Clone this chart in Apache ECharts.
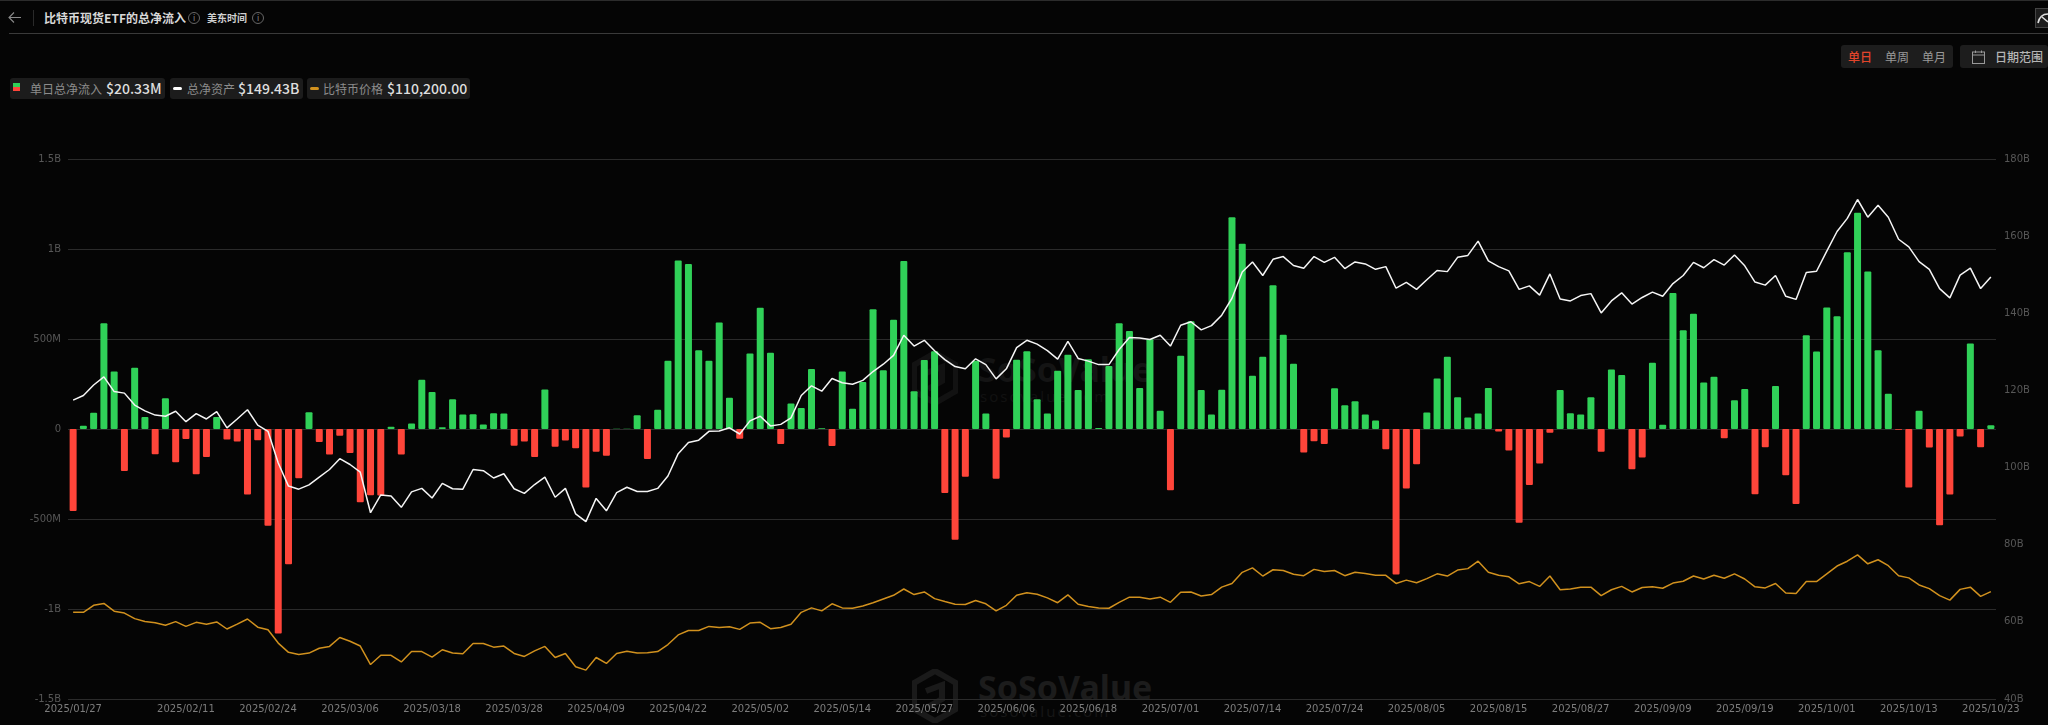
<!DOCTYPE html>
<html>
<head>
<meta charset="utf-8">
<title>比特币现货ETF的总净流入</title>
<script src="https://cdn.jsdelivr.net/npm/echarts@6/dist/echarts.min.js"></script>
<style>
    html, body { margin: 0; padding: 0; width: 2048px; height: 725px; overflow: hidden; background: #050505; }
    body { position: relative; font-family: "Noto Sans CJK SC", "Noto Sans", sans-serif; }
    #main { position: absolute; left: 0; top: 0; width: 2048px; height: 725px; z-index: 2; }
    .abs { position: absolute; white-space: nowrap; }
    .topline { left: 0; top: 0; width: 2048px; height: 1px; background: #2c2c2c; }
    .headline { left: 9px; top: 33px; width: 2039px; height: 1px; background: #3a3a3a; }
    .sep { left: 33px; top: 10px; width: 1px; height: 16px; background: #2a2a2a; }
    .title { left: 44px; top: 9px; font-size: 12px; line-height: 17px; font-weight: 700; color: #d8d8d8; }
    .tz { left: 207px; top: 10px; font-size: 10px; line-height: 15px; font-weight: 700; color: #cfcfcf; }
    .info { width: 10px; height: 10px; top: 12px; border: 1px solid #666; border-radius: 50%; color: #888; font-size: 8px; line-height: 10px; text-align: center; }
    .chip { top: 78px; height: 21px; background: #1c1c1c; border-radius: 3px; font-size: 12px; line-height: 21px; color: #8c8c8c; }
    .chip b { position: absolute; top: 0; font-size: 14px; font-weight: 500; color: #dedede; }
    .chip span { position: absolute; top: 0; }
    .mark { position: absolute; }
    .panel { background: #1d1d1d; border-radius: 3px; top: 45px; height: 23px; font-size: 12px; line-height: 23px; color: #999; }
    .panel span { position: absolute; top: 0; }
    .wm { font-weight: 700; color: #141414; font-family: "Noto Sans", sans-serif; }
    .wm2 { color: #111111; font-weight: 400; font-family: "Noto Sans", sans-serif; }
</style>
</head>
<body>
<div class="abs topline"></div>
<div class="abs headline"></div>
<svg class="abs" style="left:8px;top:11px" width="14" height="13" viewBox="0 0 14 13"><path d="M13 6.5H1M6 1.5L1 6.5L6 11.5" stroke="#8a8a8a" stroke-width="1.1" fill="none"/></svg>
<div class="abs sep"></div>
<div class="abs title">比特币现货ETF的总净流入</div>
<div class="abs info" style="left:188px">i</div>
<div class="abs tz">美东时间</div>
<div class="abs info" style="left:252px">i</div>
<svg class="abs" style="left:2035px;top:8px" width="13" height="20" viewBox="0 0 13 20"><rect x="0.5" y="0.5" width="14" height="19" fill="#1d1d1d" stroke="#444"/><path d="M3 15C4 10 7 6 13 6M7 9L13 14" stroke="#ddd" stroke-width="1.6" fill="none"/></svg>

<div class="abs chip" style="left:10px;width:155px">
    <i class="mark" style="left:3px;top:5px;width:7px;height:4px;background:#30d158"></i>
    <i class="mark" style="left:3px;top:9px;width:7px;height:4px;background:#ff453a"></i>
    <span style="left:20px">单日总净流入</span><b style="left:96px">$20.33M</b>
</div>
<div class="abs chip" style="left:170px;width:133px">
    <i class="mark" style="left:3px;top:9px;width:9px;height:3px;border-radius:2px;background:#fff"></i>
    <span style="left:17px">总净资产</span><b style="left:68px">$149.43B</b>
</div>
<div class="abs chip" style="left:307px;width:163px">
    <i class="mark" style="left:3px;top:9px;width:9px;height:3px;border-radius:2px;background:#d1911e"></i>
    <span style="left:16px">比特币价格</span><b style="left:80px">$110,200.00</b>
</div>

<div class="abs panel" style="left:1841px;width:112px">
    <span style="left:7px;color:#e2452b;font-weight:500">单日</span>
    <span style="left:44px">单周</span>
    <span style="left:81px">单月</span>
</div>
<div class="abs panel" style="left:1960px;width:88px;color:#b5b5b5">
    <svg class="mark" style="left:12px;top:5px" width="13" height="14" viewBox="0 0 13 14"><rect x="0.5" y="2" width="12" height="11.5" fill="none" stroke="#999"/><path d="M0.5 5H12.5M3.5 0.5V3M9.5 0.5V3" stroke="#999" fill="none"/></svg>
    <span style="left:35px;font-weight:500">日期范围</span>
</div>

<svg class="abs" style="left:912px;top:351px" width="46" height="54" viewBox="0 0 46 54"><path d="M23 2L44 14V40L23 52L2 40V14Z" fill="none" stroke="#121212" stroke-width="6"/><path d="M14 22L30 16V30L16 38" fill="none" stroke="#121212" stroke-width="6"/></svg>
<div class="abs wm" style="left:978px;top:346px;font-size:34px;line-height:46px">SoSoValue</div>
<div class="abs wm2" style="left:980px;top:386px;font-size:15px;line-height:20px;letter-spacing:2px">sosovalue.com</div>
<svg class="abs" style="left:912px;top:669px" width="46" height="54" viewBox="0 0 46 54"><path d="M23 2L44 14V40L23 52L2 40V14Z" fill="none" stroke="#1a1a1a" stroke-width="6"/><path d="M14 22L30 16V30L16 38" fill="none" stroke="#1a1a1a" stroke-width="6"/></svg>
<div class="abs wm" style="left:978px;top:664px;font-size:34px;line-height:46px;color:#1c1c1c">SoSoValue</div>
<div class="abs wm2" style="left:980px;top:701px;font-size:15px;line-height:20px;letter-spacing:2px;color:#161616">sosovalue.com</div>

<div id="main"></div>

<script type="text/javascript">
    var categories = [
        '2025/01/27','2025/01/28','2025/01/29','2025/01/30','2025/01/31','2025/02/03','2025/02/04','2025/02/05','2025/02/06','2025/02/07',
        '2025/02/10','2025/02/11','2025/02/12','2025/02/13','2025/02/14','2025/02/18','2025/02/19','2025/02/20','2025/02/21','2025/02/24',
        '2025/02/25','2025/02/26','2025/02/27','2025/02/28','2025/03/03','2025/03/04','2025/03/05','2025/03/06','2025/03/07','2025/03/10',
        '2025/03/11','2025/03/12','2025/03/13','2025/03/14','2025/03/17','2025/03/18','2025/03/19','2025/03/20','2025/03/21','2025/03/24',
        '2025/03/25','2025/03/26','2025/03/27','2025/03/28','2025/03/31','2025/04/01','2025/04/02','2025/04/03','2025/04/04','2025/04/07',
        '2025/04/08','2025/04/09','2025/04/10','2025/04/11','2025/04/14','2025/04/15','2025/04/16','2025/04/17','2025/04/21','2025/04/22',
        '2025/04/23','2025/04/24','2025/04/25','2025/04/28','2025/04/29','2025/04/30','2025/05/01','2025/05/02','2025/05/05','2025/05/06',
        '2025/05/07','2025/05/08','2025/05/09','2025/05/12','2025/05/13','2025/05/14','2025/05/15','2025/05/16','2025/05/19','2025/05/20',
        '2025/05/21','2025/05/22','2025/05/23','2025/05/27','2025/05/28','2025/05/29','2025/05/30','2025/06/02','2025/06/03','2025/06/04',
        '2025/06/05','2025/06/06','2025/06/09','2025/06/10','2025/06/11','2025/06/12','2025/06/13','2025/06/16','2025/06/17','2025/06/18',
        '2025/06/20','2025/06/23','2025/06/24','2025/06/25','2025/06/26','2025/06/27','2025/06/30','2025/07/01','2025/07/02','2025/07/03',
        '2025/07/07','2025/07/08','2025/07/09','2025/07/10','2025/07/11','2025/07/14','2025/07/15','2025/07/16','2025/07/17','2025/07/18',
        '2025/07/21','2025/07/22','2025/07/23','2025/07/24','2025/07/25','2025/07/28','2025/07/29','2025/07/30','2025/07/31','2025/08/01',
        '2025/08/04','2025/08/05','2025/08/06','2025/08/07','2025/08/08','2025/08/11','2025/08/12','2025/08/13','2025/08/14','2025/08/15',
        '2025/08/18','2025/08/19','2025/08/20','2025/08/21','2025/08/22','2025/08/25','2025/08/26','2025/08/27','2025/08/28','2025/08/29',
        '2025/09/02','2025/09/03','2025/09/04','2025/09/05','2025/09/08','2025/09/09','2025/09/10','2025/09/11','2025/09/12','2025/09/15',
        '2025/09/16','2025/09/17','2025/09/18','2025/09/19','2025/09/22','2025/09/23','2025/09/24','2025/09/25','2025/09/26','2025/09/29',
        '2025/09/30','2025/10/01','2025/10/02','2025/10/03','2025/10/06','2025/10/07','2025/10/08','2025/10/09','2025/10/10','2025/10/13',
        '2025/10/14','2025/10/15','2025/10/16','2025/10/17','2025/10/20','2025/10/21','2025/10/22','2025/10/23'
    ];

    //单日总净流入 (百万美元)
    var netInflow = [
        -455, 18, 90, 587, 319, -233, 340, 66, -140, 171,
        -185, -56, -251, -156, 66, -58, -70, -364, -62, -537,
        -1136, -751, -274, 93, -72, -142, -37, -134, -407, -368,
        -370, 12, -142, 31, 274, 206, 10, 165, 80, 82,
        25, 88, 86, -93, -70, -156, 220, -99, -64, -107,
        -325, -126, -148, 1, 2, 76, -167, 107, 379, 936,
        916, 438, 379, 591, 173, -54, 420, 673, 424, -84,
        142, 117, 333, 4, -95, 319, 113, 261, 665, 327,
        607, 934, 210, 383, 432, -356, -615, -265, 379, 86,
        -276, -47, 385, 432, 165, 86, 323, 412, 216, 387,
        5, 350, 587, 545, 228, 498, 101, -340, 407, 599,
        216, 80, 218, 1177, 1029, 296, 401, 798, 523, 362,
        -130, -68, -84, 226, 132, 154, 80, 47, -113, -809,
        -331, -196, 91, 280, 401, 177, 64, 86, 228, -14,
        -119, -521, -311, -191, -21, 216, 88, 80, 177, -126,
        331, 300, -224, -158, 368, 23, 755, 549, 640, 259,
        290, -51, 160, 222, -362, -101, 239, -257, -416, 521,
        430, 675, 626, 982, 1202, 875, 438, 196, -4, -325,
        101, -103, -535, -364, -41, 475, -101, 20.33
    ];

    //总净资产 (十亿美元)
    var netAssets = [
        117.5, 118.7, 121.4, 123.5, 119.7, 119.3, 116.2, 114.7, 113.6, 113.3,
        114.6, 111.9, 114.0, 112.6, 114.5, 110.3, 112.6, 115.0, 111.0, 109.4,
        101.2, 95.2, 94.4, 95.5, 97.5, 99.5, 102.3, 100.8, 98.8, 88.3,
        92.9, 92.6, 89.7, 93.7, 94.6, 92.1, 95.9, 94.5, 94.4, 99.5,
        99.2, 97.3, 98.4, 94.5, 93.3, 95.6, 97.5, 92.3, 94.6, 88.0,
        86.0, 92.0, 88.8, 93.5, 94.9, 93.8, 93.8, 94.6, 97.8, 103.6,
        106.5, 107.1, 109.4, 109.5, 110.3, 108.7, 112.1, 113.3, 110.8, 111.2,
        112.9, 118.7, 121.2, 119.8, 123.1, 122.0, 121.6, 122.6, 124.9, 126.8,
        129.1, 134.3, 131.5, 133.0, 130.3, 128.0, 126.2, 125.6, 128.2, 126.7,
        123.0, 125.6, 131.1, 133.0, 132.0, 130.3, 128.1, 132.7, 128.3, 127.6,
        126.7, 126.7, 130.6, 133.7, 133.6, 133.2, 134.3, 131.5, 136.9, 137.8,
        135.7, 136.8, 139.5, 143.9, 150.7, 153.3, 149.8, 154.0, 154.7, 152.4,
        151.7, 154.7, 153.2, 154.5, 151.6, 153.3, 152.8, 151.4, 152.1, 146.5,
        148.0, 146.2, 148.7, 151.1, 150.8, 154.5, 155.0, 158.7, 153.6, 152.1,
        151.0, 146.2, 147.1, 144.7, 150.2, 143.7, 143.2, 144.6, 145.1, 140.1,
        143.2, 145.3, 142.4, 144.1, 145.5, 144.4, 147.7, 149.8, 153.2, 151.8,
        153.9, 152.5, 155.1, 152.3, 148.1, 147.3, 149.8, 144.4, 143.6, 150.6,
        150.9, 156.1, 161.2, 164.6, 169.5, 164.9, 168.0, 164.9, 159.2, 157.2,
        153.4, 151.4, 146.4, 144.0, 149.9, 151.7, 146.4, 149.43
    ];

    //比特币价格
    var btcPrice = [
        101800, 101800, 104650, 105400, 102250, 101500, 99250, 98050, 97600, 96550,
        98050, 96100, 97750, 97000, 97900, 95050, 97000, 99100, 95800, 94750,
        89350, 85600, 84700, 85300, 87250, 88000, 91600, 90100, 88150, 80650,
        84400, 84400, 81700, 85900, 85900, 83650, 86650, 85300, 85000, 89200,
        89200, 87700, 88150, 85150, 83950, 86200, 88000, 83500, 85150, 79750,
        78400, 83500, 81100, 85150, 86050, 85300, 85450, 85900, 88750, 92650,
        94450, 94450, 96100, 95650, 95950, 94900, 97450, 97750, 95200, 95650,
        97000, 101800, 103600, 102400, 105250, 103600, 103450, 104350, 105700, 107200,
        108700, 111250, 109000, 110050, 107350, 106150, 105100, 104950, 106600, 105250,
        102400, 104650, 108700, 109750, 109150, 107650, 105700, 108850, 105100, 104200,
        103600, 103450, 105850, 107950, 107950, 107200, 107950, 105850, 109900, 110050,
        108400, 109000, 112000, 113500, 118000, 119800, 116500, 119050, 118750, 117250,
        116650, 119200, 118300, 118750, 116650, 118000, 117550, 116800, 116800, 113500,
        114850, 113800, 115450, 117400, 116500, 118900, 119500, 122500, 118000, 116800,
        116200, 113350, 114250, 112300, 116500, 110950, 111250, 112000, 112000, 108550,
        110950, 112300, 110050, 111850, 112150, 111550, 113650, 114400, 116500, 115300,
        116800, 115600, 117400, 115300, 112150, 111700, 113500, 109600, 109450, 114250,
        114250, 117400, 120550, 122500, 125050, 121450, 123100, 120700, 116650, 115750,
        112900, 111400, 108550, 106750, 111100, 112000, 108250, 110200
    ];

    var xTickLabels = [
        '2025/01/27','2025/02/11','2025/02/24','2025/03/06','2025/03/18','2025/03/28','2025/04/09','2025/04/22',
        '2025/05/02','2025/05/14','2025/05/27','2025/06/06','2025/06/18','2025/07/01','2025/07/14','2025/07/24',
        '2025/08/05','2025/08/15','2025/08/27','2025/09/09','2025/09/19','2025/10/01','2025/10/13','2025/10/23'
    ];
    var flowTickLabels = { '-1500': '-1.5B', '-1000': '-1B', '-500': '-500M', '0': '0', '500': '500M', '1000': '1B', '1500': '1.5B' };

    var green = '#30d158';
    var red = '#ff453a';
    var axisFont = '"DejaVu Sans", sans-serif';

    var myChart = echarts.init(document.getElementById('main'), null, { renderer: 'canvas' });
    myChart.setOption({
        animation: false,
        backgroundColor: 'transparent',
        grid: { left: 68, right: 52, top: 159, bottom: 26, containLabel: false },
        tooltip: { trigger: 'axis' },
        xAxis: {
            type: 'category',
            data: categories,
            boundaryGap: true,
            axisLine: { show: false },
            axisTick: { show: false },
            splitLine: { show: false },
            axisLabel: {
                color: '#7d7d7d',
                fontSize: 10,
                fontFamily: axisFont,
                margin: 5,
                interval: function (index, value) {
                    return xTickLabels.indexOf(value) !== -1;
                }
            }
        },
        yAxis: [
            {
                type: 'value',
                min: -1500,
                max: 1500,
                interval: 500,
                axisLine: { show: false },
                axisTick: { show: false },
                splitLine: { show: true, lineStyle: { color: '#2b2b2b', width: 1 } },
                axisLabel: {
                    color: '#575757',
                    fontSize: 10,
                    fontFamily: axisFont,
                    margin: 7,
                    formatter: function (v) { return flowTickLabels[String(v)]; }
                }
            },
            {
                type: 'value',
                position: 'right',
                min: 40,
                max: 180,
                interval: 20,
                axisLine: { show: false },
                axisTick: { show: false },
                splitLine: { show: false },
                axisLabel: {
                    color: '#575757',
                    fontSize: 10,
                    fontFamily: axisFont,
                    margin: 8,
                    formatter: '{value}B'
                }
            },
            {
                // 价格轴不显示
                type: 'value',
                position: 'right',
                show: false,
                min: 66700,
                max: 285400,
                splitLine: { show: false }
            }
        ],
        series: [
            {
                name: '单日总净流入',
                type: 'bar',
                yAxisIndex: 0,
                barWidth: 7,
                data: netInflow,
                itemStyle: {
                    borderRadius: 1,
                    color: function (p) { return p.value >= 0 ? green : red; }
                }
            },
            {
                name: '总净资产',
                type: 'line',
                yAxisIndex: 1,
                data: netAssets,
                showSymbol: false,
                lineStyle: { color: '#f5f5f5', width: 1.5 },
                itemStyle: { color: '#f5f5f5' }
            },
            {
                name: '比特币价格',
                type: 'line',
                yAxisIndex: 2,
                data: btcPrice,
                showSymbol: false,
                lineStyle: { color: '#d1911e', width: 1.5 },
                itemStyle: { color: '#d1911e' }
            }
        ]
    });
</script>
</body>
</html>
